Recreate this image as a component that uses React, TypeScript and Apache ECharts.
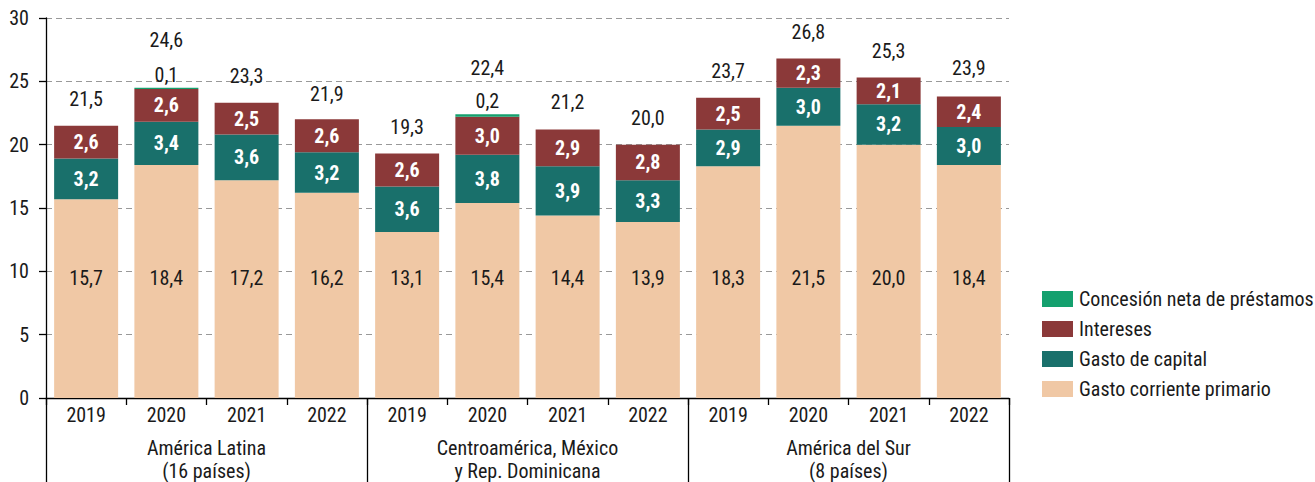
import React, { useEffect, useRef } from "react";
import * as echarts from "echarts";

const years = ["2019", "2020", "2021", "2022", "2019", "2020", "2021", "2022", "2019", "2020", "2021", "2022"];
const groups = ["América Latina\n(16 países)", "Centroamérica, México\ny Rep. Dominicana", "América del Sur\n(8 países)"];
const gastoCorriente = [15.7, 18.4, 17.2, 16.2, 13.1, 15.4, 14.4, 13.9, 18.3, 21.5, 20.0, 18.4];
const gastoCapital = [3.2, 3.4, 3.6, 3.2, 3.6, 3.8, 3.9, 3.3, 2.9, 3.0, 3.2, 3.0];
const intereses = [2.6, 2.6, 2.5, 2.6, 2.6, 3.0, 2.9, 2.8, 2.5, 2.3, 2.1, 2.4];
const concesion = [0, 0.1, 0, 0, 0, 0.2, 0, 0, 0, 0, 0, 0];
const totales = [21.5, 24.6, 23.3, 21.9, 19.3, 22.4, 21.2, 20.0, 23.7, 26.8, 25.3, 23.9];
const yTicks = { min: 0, max: 30, interval: 5 };

const FONT = "'Liberation Sans Narrow', 'Roboto Condensed', 'DejaVu Sans Condensed', sans-serif";
const TXT = "#1a1a1a";
const fmt = (v: number) => v.toFixed(1).replace(".", ",");

export default function App() {
  const ref = useRef<HTMLDivElement>(null);
  useEffect(() => {
    document.body.style.margin = "0";
    const chart = echarts.init(ref.current!, null, { renderer: "svg" });
    const BW = 64;
    chart.setOption({
      animation: false,
      textStyle: { fontFamily: FONT },
      grid: { left: 46, right: 306, top: 18, bottom: 84 },
      legend: {
        orient: "vertical",
        left: 1037,
        top: 284,
        itemWidth: 31,
        itemHeight: 16,
        itemGap: 10,
        icon: "rect",
        data: ["Concesión neta de préstamos", "Intereses", "Gasto de capital", "Gasto corriente primario"],
        textStyle: { fontFamily: FONT, fontSize: 20, color: TXT, padding: [0, 0, 0, 1] },
      },
      xAxis: [
        {
          type: "category",
          data: years,
          axisLine: { lineStyle: { color: "#000", width: 1.3 } },
          axisTick: { show: true, length: 7, interval: 0, lineStyle: { color: "#000", width: 1.3 } },
          axisLabel: { fontFamily: FONT, fontSize: 20, color: TXT, margin: 7, interval: 0 },
        },
        {
          type: "category",
          data: groups,
          position: "bottom",
          axisLine: { show: false },
          axisTick: { show: true, length: 84, interval: 0, lineStyle: { color: "#000", width: 1.3 } },
          axisLabel: { fontFamily: FONT, fontSize: 20, color: TXT, margin: 38, lineHeight: 23, interval: 0 },
        },
      ],
      yAxis: {
        type: "value",
        min: yTicks.min,
        max: yTicks.max,
        interval: yTicks.interval,
        axisLine: { show: true, lineStyle: { color: "#000", width: 1.3 } },
        axisTick: { show: true, length: 7, lineStyle: { color: "#000", width: 1.3 } },
        axisLabel: { fontFamily: FONT, fontSize: 20, color: TXT, margin: 17 },
        splitLine: { lineStyle: { color: "#999", type: [6, 4], width: 1 } },
      },
      series: [
        {
          name: "Gasto corriente primario",
          type: "bar",
          stack: "a",
          barWidth: BW,
          data: gastoCorriente,
          itemStyle: { color: "#F0C8A5" },
          label: {
            show: true,
            position: "insideBottom",
            distance: 110,
            fontFamily: FONT,
            fontSize: 20,
            color: TXT,
            formatter: (p: any) => fmt(p.value),
          },
        },
        {
          name: "Gasto de capital",
          type: "bar",
          stack: "a",
          barWidth: BW,
          data: gastoCapital,
          itemStyle: { color: "#19706B" },
          label: {
            show: true,
            position: "inside",
            fontFamily: FONT,
            fontSize: 20,
            fontWeight: "bold",
            color: "#fff",
            formatter: (p: any) => fmt(p.value),
          },
        },
        {
          name: "Intereses",
          type: "bar",
          stack: "a",
          barWidth: BW,
          data: intereses,
          itemStyle: { color: "#8B3939" },
          label: {
            show: true,
            position: "inside",
            fontFamily: FONT,
            fontSize: 20,
            fontWeight: "bold",
            color: "#fff",
            formatter: (p: any) => fmt(p.value),
          },
        },
        {
          name: "Concesión neta de préstamos",
          type: "bar",
          stack: "a",
          barWidth: BW,
          data: concesion,
          itemStyle: { color: "#14A06E" },
          label: {
            show: true,
            position: "top",
            distance: 3,
            fontFamily: FONT,
            fontSize: 20,
            color: TXT,
            formatter: (p: any) => (p.value > 0 ? fmt(p.value) : ""),
          },
        },
        {
          name: "Total",
          type: "bar",
          stack: "t",
          barWidth: BW,
          barGap: "-100%",
          silent: true,
          z: 1,
          itemStyle: { color: "rgba(0,0,0,0)" },
          data: totales.map((v, i) => (concesion[i] > 0 ? { value: v, label: { distance: 36 } } : v)),
          label: {
            show: true,
            position: "top",
            distance: 17,
            fontFamily: FONT,
            fontSize: 20,
            color: TXT,
            formatter: (p: any) => fmt(p.value),
          },
        },
      ],
    });
    return () => chart.dispose();
  }, []);
  return <div ref={ref} style={{ width: 1315, height: 482 }} />;
}
